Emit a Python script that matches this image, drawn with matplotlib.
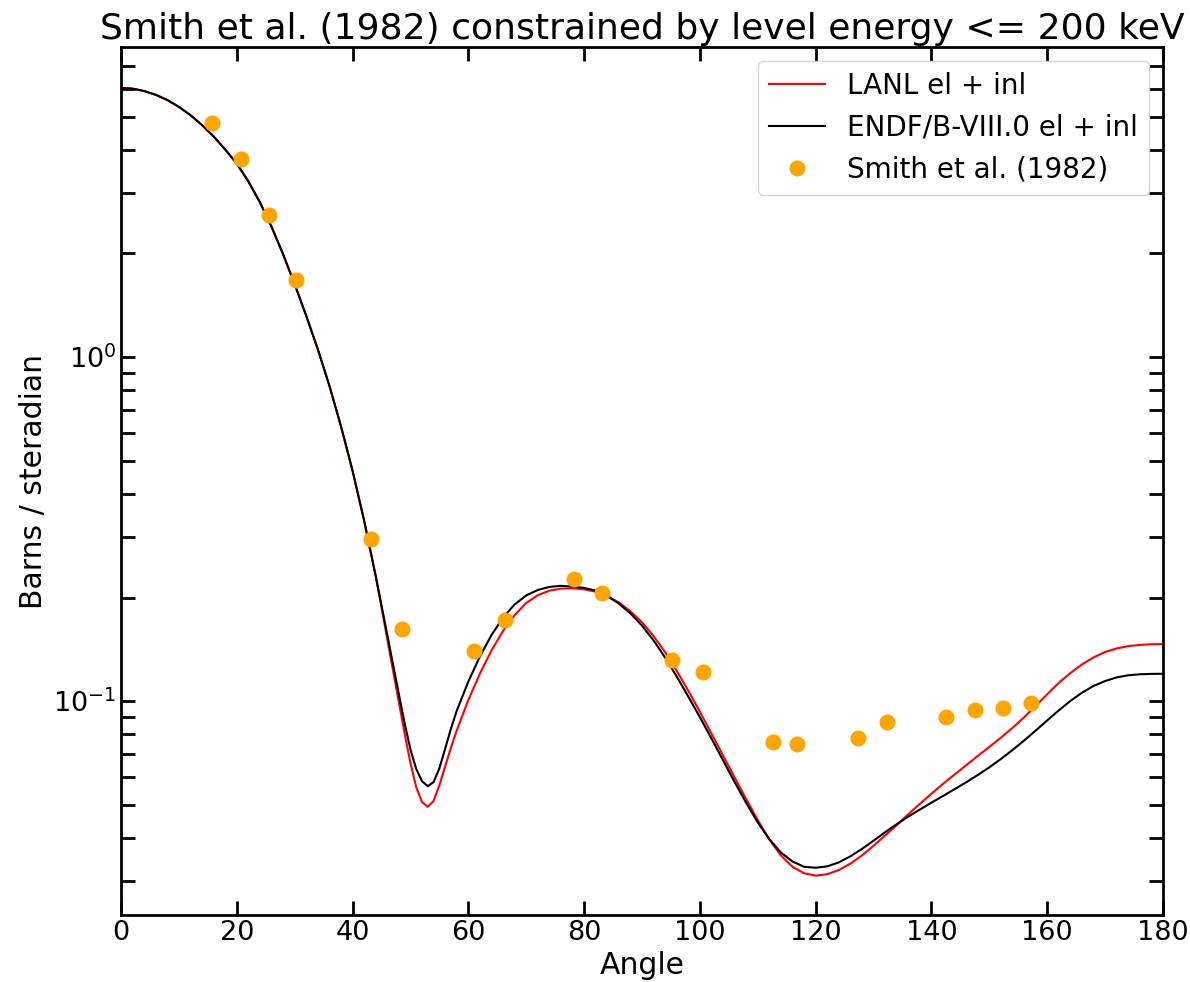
import matplotlib
matplotlib.use("Agg")
import matplotlib.pyplot as plt

# angular grid of the evaluated distributions (degrees)
angles = [0, 2, 4, 6, 8, 10, 12, 14, 16, 18, 20, 22, 24, 26, 28, 30,
          32, 34, 36, 38, 40, 42, 44,
          45, 46, 47, 48, 49, 50, 51, 52, 53, 54, 55, 56, 57, 58,
          60, 62, 64, 66, 68, 70, 72, 74, 76, 78, 80, 82, 84, 86, 88,
          90, 92, 94, 96, 98, 100, 102, 104, 106, 108, 110, 112, 114,
          116, 118, 120, 122, 124, 126, 128, 130, 132, 134, 136, 138,
          140, 142, 144, 146, 148, 150, 152, 154, 156, 158, 160, 162,
          164, 166, 168, 170, 172, 174, 176, 178, 180]

# forward peak, identical in both evaluations (b/sr)
forward = [6.053, 6.026, 5.929, 5.781, 5.585, 5.333, 5.047, 4.721, 4.375, 4.009,
           3.648, 3.239, 2.815, 2.391, 1.989, 1.627, 1.317, 1.053, 0.825, 0.629,
           0.467, 0.3345, 0.2309]

# LANL elastic + inelastic beyond 44 deg (b/sr)
lanl_tail = [0.1871, 0.1514, 0.1225, 0.0993, 0.0804, 0.0661, 0.0562, 0.0509, 0.0493,
             0.0513, 0.0569, 0.0646, 0.0733, 0.0822,
             0.1007, 0.1202, 0.1403, 0.1600, 0.1778, 0.1928, 0.2032, 0.2094, 0.2123,
             0.2128, 0.2113, 0.2080, 0.2018, 0.1936, 0.1824,
             0.1694, 0.1545, 0.1387, 0.1225, 0.1072, 0.0931, 0.0805, 0.0695, 0.0600,
             0.0519, 0.0451, 0.0396, 0.0356,
             0.0330, 0.0316, 0.0311, 0.0314, 0.0323, 0.0337, 0.0356, 0.0380, 0.0407,
             0.0436, 0.0469, 0.0503,
             0.0538, 0.0575, 0.0612, 0.0651, 0.0693, 0.0736, 0.0783, 0.0836, 0.0897,
             0.0968, 0.1047, 0.1130,
             0.1206, 0.1278, 0.1340, 0.1389, 0.1423, 0.1445, 0.1457, 0.1463, 0.1464]

# ENDF/B-VIII.0 elastic + inelastic beyond 44 deg (b/sr)
endf_tail = [0.1897, 0.1556, 0.1276, 0.1047, 0.0861, 0.0724, 0.0635, 0.0585, 0.0566,
             0.0582, 0.0638, 0.0728, 0.0832, 0.0938,
             0.1140, 0.1349, 0.1556, 0.1750, 0.1910, 0.2028, 0.2104, 0.2148, 0.2163,
             0.2153, 0.2133, 0.2094, 0.2021, 0.1921, 0.1799,
             0.1658, 0.1501, 0.1338, 0.1179, 0.1031, 0.0898, 0.0779, 0.0673, 0.0582,
             0.0506, 0.0444, 0.0397, 0.0363,
             0.0342, 0.0330, 0.0328, 0.0331, 0.0340, 0.0354, 0.0372, 0.0393, 0.0416,
             0.0439, 0.0462, 0.0484,
             0.0507, 0.0530, 0.0555, 0.0581, 0.0610, 0.0642, 0.0679, 0.0721, 0.0768,
             0.0821, 0.0879, 0.0940,
             0.1001, 0.1058, 0.1107, 0.1144, 0.1172, 0.1189, 0.1197, 0.1200, 0.1201]

lanl = forward + lanl_tail
endf = forward + endf_tail

# Smith et al. (1982) measurement
smith_angle = [15.7, 20.7, 25.6, 30.2, 43.2, 48.5, 60.9, 66.4, 78.2, 83.1,
               95.1, 100.5, 112.6, 116.8, 127.3, 132.4, 142.5, 147.5, 152.3, 157.2]
smith_xs = [4.78, 3.76, 2.58, 1.68, 0.295, 0.162, 0.1397, 0.172, 0.226, 0.2065,
            0.1316, 0.1214, 0.076, 0.075, 0.0782, 0.0869, 0.0898, 0.0941, 0.0957, 0.0989]

fig = plt.figure(figsize=(11.9, 9.82), dpi=100)
ax = fig.add_axes([0.1017, 0.0682, 0.8756, 0.8839])

ax.plot(angles, lanl, color="red", lw=1.5, label="LANL el + inl")
ax.plot(angles, endf, color="black", lw=1.5, label="ENDF/B-VIII.0 el + inl")
ax.plot(smith_angle, smith_xs, "o", color="orange", ms=10.5, linestyle="none",
        label="Smith et al. (1982)")

ax.set_yscale("log")
ax.set_xlim(0, 180)
ax.set_ylim(0.0239, 7.96)

ax.set_title("Smith et al. (1982) constrained by level energy <= 200 keV", fontsize=26)
ax.set_xlabel("Angle", fontsize=21.5)
ax.set_ylabel("Barns / steradian", fontsize=21.5)

ax.tick_params(which="both", direction="in", top=True, right=True, labelsize=19.5)
ax.tick_params(which="major", length=10, width=2)
ax.tick_params(which="minor", length=10, width=2)
for sp in ax.spines.values():
    sp.set_linewidth(2)

ax.legend(loc="upper right", fontsize=20)

fig.savefig("out.png", dpi=100)
